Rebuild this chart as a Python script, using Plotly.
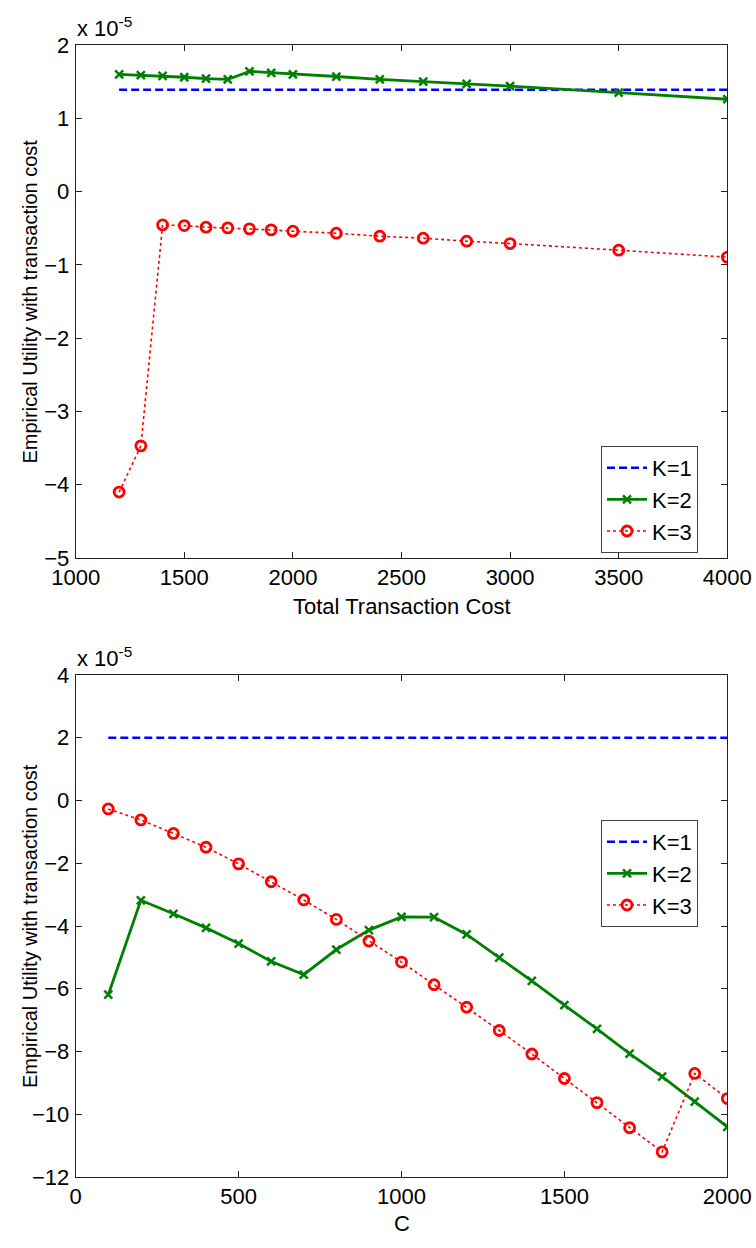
import plotly.graph_objects as go

# ---------------- data (values in units of 1e-5) ----------------
cost_top = [1200, 1300, 1400, 1500, 1600, 1700, 1800, 1900, 2000,
            2200, 2400, 2600, 2800, 3000, 3500, 4000]
k1_top = [1.39, 1.39, 1.39, 1.39, 1.39, 1.39, 1.39, 1.39, 1.39,
          1.39, 1.39, 1.39, 1.39, 1.39, 1.39, 1.39]
k2_top = [1.60, 1.59, 1.58, 1.56, 1.54, 1.53, 1.64, 1.62, 1.60,
          1.57, 1.53, 1.50, 1.47, 1.44, 1.35, 1.26]
k3_top = [-4.10, -3.47, -0.455, -0.464, -0.486, -0.495, -0.509, -0.523, -0.541,
          -0.568, -0.609, -0.636, -0.677, -0.709, -0.80, -0.895]

c_bottom = [100, 200, 300, 400, 500, 600, 700, 800, 900, 1000,
            1100, 1200, 1300, 1400, 1500, 1600, 1700, 1800, 1900, 2000]
k1_bottom = [2.0, 2.0, 2.0, 2.0, 2.0, 2.0, 2.0, 2.0, 2.0, 2.0,
             2.0, 2.0, 2.0, 2.0, 2.0, 2.0, 2.0, 2.0, 2.0, 2.0]
k2_bottom = [-6.19, -3.18, -3.61, -4.06, -4.56, -5.13, -5.55, -4.75, -4.13, -3.71,
             -3.72, -4.27, -5.01, -5.75, -6.52, -7.28, -8.07, -8.8, -9.6, -10.4]
k3_bottom = [-0.27, -0.62, -1.05, -1.49, -2.02, -2.59, -3.17, -3.79, -4.48, -5.15,
             -5.87, -6.59, -7.33, -8.08, -8.86, -9.63, -10.43, -11.2, -8.7, -9.5]

top_xticks = [1000, 1500, 2000, 2500, 3000, 3500, 4000]
top_yticks = [-5, -4, -3, -2, -1, 0, 1, 2]
bot_xticks = [0, 500, 1000, 1500, 2000]
bot_yticks = [-12, -10, -8, -6, -4, -2, 0, 2, 4]

series_names = ["K=1", "K=2", "K=3"]

# ---------------- styling ----------------
W, H = 756, 1248
FONT = "Liberation Sans, Arial, Helvetica, sans-serif"
FS = 22
FS_Y = 20
BLUE, GREEN, RED = "#0000ff", "#008000", "#ff0000"

x_dom = [75.7 / W, 727.3 / W]
top_dom = [1 - 558 / H, 1 - 45 / H]
bot_dom = [1 - 1177 / H, 1 - 675 / H]

fig = go.Figure()


def add_series(x, k1, k2, k3, xa, ya, legend):
    fig.add_trace(go.Scatter(
        x=x, y=k1, name=series_names[0], mode="lines", xaxis=xa, yaxis=ya,
        legend=legend,
        line=dict(color=BLUE, width=2.5, dash="8px,4px")))
    fig.add_trace(go.Scatter(
        x=x, y=k2, name=series_names[1], mode="lines+markers", xaxis=xa, yaxis=ya,
        legend=legend,
        line=dict(color=GREEN, width=2.8),
        marker=dict(symbol="x-thin", size=8, color=GREEN,
                    line=dict(color=GREEN, width=2.5))))
    fig.add_trace(go.Scatter(
        x=x, y=k3, name=series_names[2], mode="lines+markers", xaxis=xa, yaxis=ya,
        legend=legend,
        line=dict(color=RED, width=1.6, dash="dot"),
        marker=dict(symbol="circle-open", size=10, color=RED,
                    line=dict(color=RED, width=2.8))))


add_series(cost_top, k1_top, k2_top, k3_top, "x", "y", "legend")
add_series(c_bottom, k1_bottom, k2_bottom, k3_bottom, "x2", "y2", "legend2")

axis_common = dict(
    showline=True, linecolor="#222222", linewidth=1, mirror="ticks",
    ticks="inside", ticklen=6, tickcolor="#222222", tickwidth=1,
    showgrid=False, zeroline=False, automargin=False,
    tickfont=dict(family=FONT, size=FS, color="black"),
)

legend_common = dict(
    font=dict(family=FONT, size=FS, color="black"),
    bgcolor="white", bordercolor="#444444", borderwidth=1,
    xanchor="right", yanchor="top", tracegroupgap=0,
    itemwidth=40,
)

fig.update_layout(
    width=W, height=H, autosize=False,
    margin=dict(l=0, r=0, t=0, b=0, autoexpand=False),
    paper_bgcolor="white", plot_bgcolor="white",
    font=dict(family=FONT, size=FS, color="black"),
    xaxis=dict(domain=x_dom, range=[1000, 4000], tickvals=top_xticks,
               anchor="y", ticklabelstandoff=0, **axis_common),
    yaxis=dict(domain=top_dom, range=[-5, 2], tickvals=top_yticks,
               anchor="x", ticklabelstandoff=1, **axis_common),
    xaxis2=dict(domain=x_dom, range=[0, 2000], tickvals=bot_xticks,
                anchor="y2", ticklabelstandoff=0, **axis_common),
    yaxis2=dict(domain=bot_dom, range=[-12, 4], tickvals=bot_yticks,
                anchor="x2", ticklabelstandoff=1, **axis_common),
    legend=dict(x=698 / W, y=1 - 446 / H, **legend_common),
    legend2=dict(x=698 / W, y=1 - 820 / H, **legend_common),
)

annotations = [
    # exponent labels
    dict(text="x 10<sup>-5</sup>", x=75 / W, y=1 - 43 / H, xanchor="left",
         yanchor="bottom", size=FS),
    dict(text="x 10<sup>-5</sup>", x=75 / W, y=1 - 673 / H, xanchor="left",
         yanchor="bottom", size=FS),
    # axis titles
    dict(text="Total Transaction Cost", x=(x_dom[0] + x_dom[1]) / 2,
         y=1 - 607 / H, xanchor="center", yanchor="middle", size=FS),
    dict(text="C", x=(x_dom[0] + x_dom[1]) / 2, y=1 - 1223 / H,
         xanchor="center", yanchor="middle", size=FS),
    dict(text="Empirical Utility with transaction cost", textangle=-90,
         x=30 / W, y=(top_dom[0] + top_dom[1]) / 2, xanchor="center",
         yanchor="middle", size=FS_Y),
    dict(text="Empirical Utility with transaction cost", textangle=-90,
         x=30 / W, y=(bot_dom[0] + bot_dom[1]) / 2, xanchor="center",
         yanchor="middle", size=FS_Y),
]
for a in annotations:
    sz = a.pop("size")
    a.update(xref="paper", yref="paper", showarrow=False,
             font=dict(family=FONT, size=sz, color="black"))
fig.update_layout(annotations=annotations)

fig.write_html("out.html")
